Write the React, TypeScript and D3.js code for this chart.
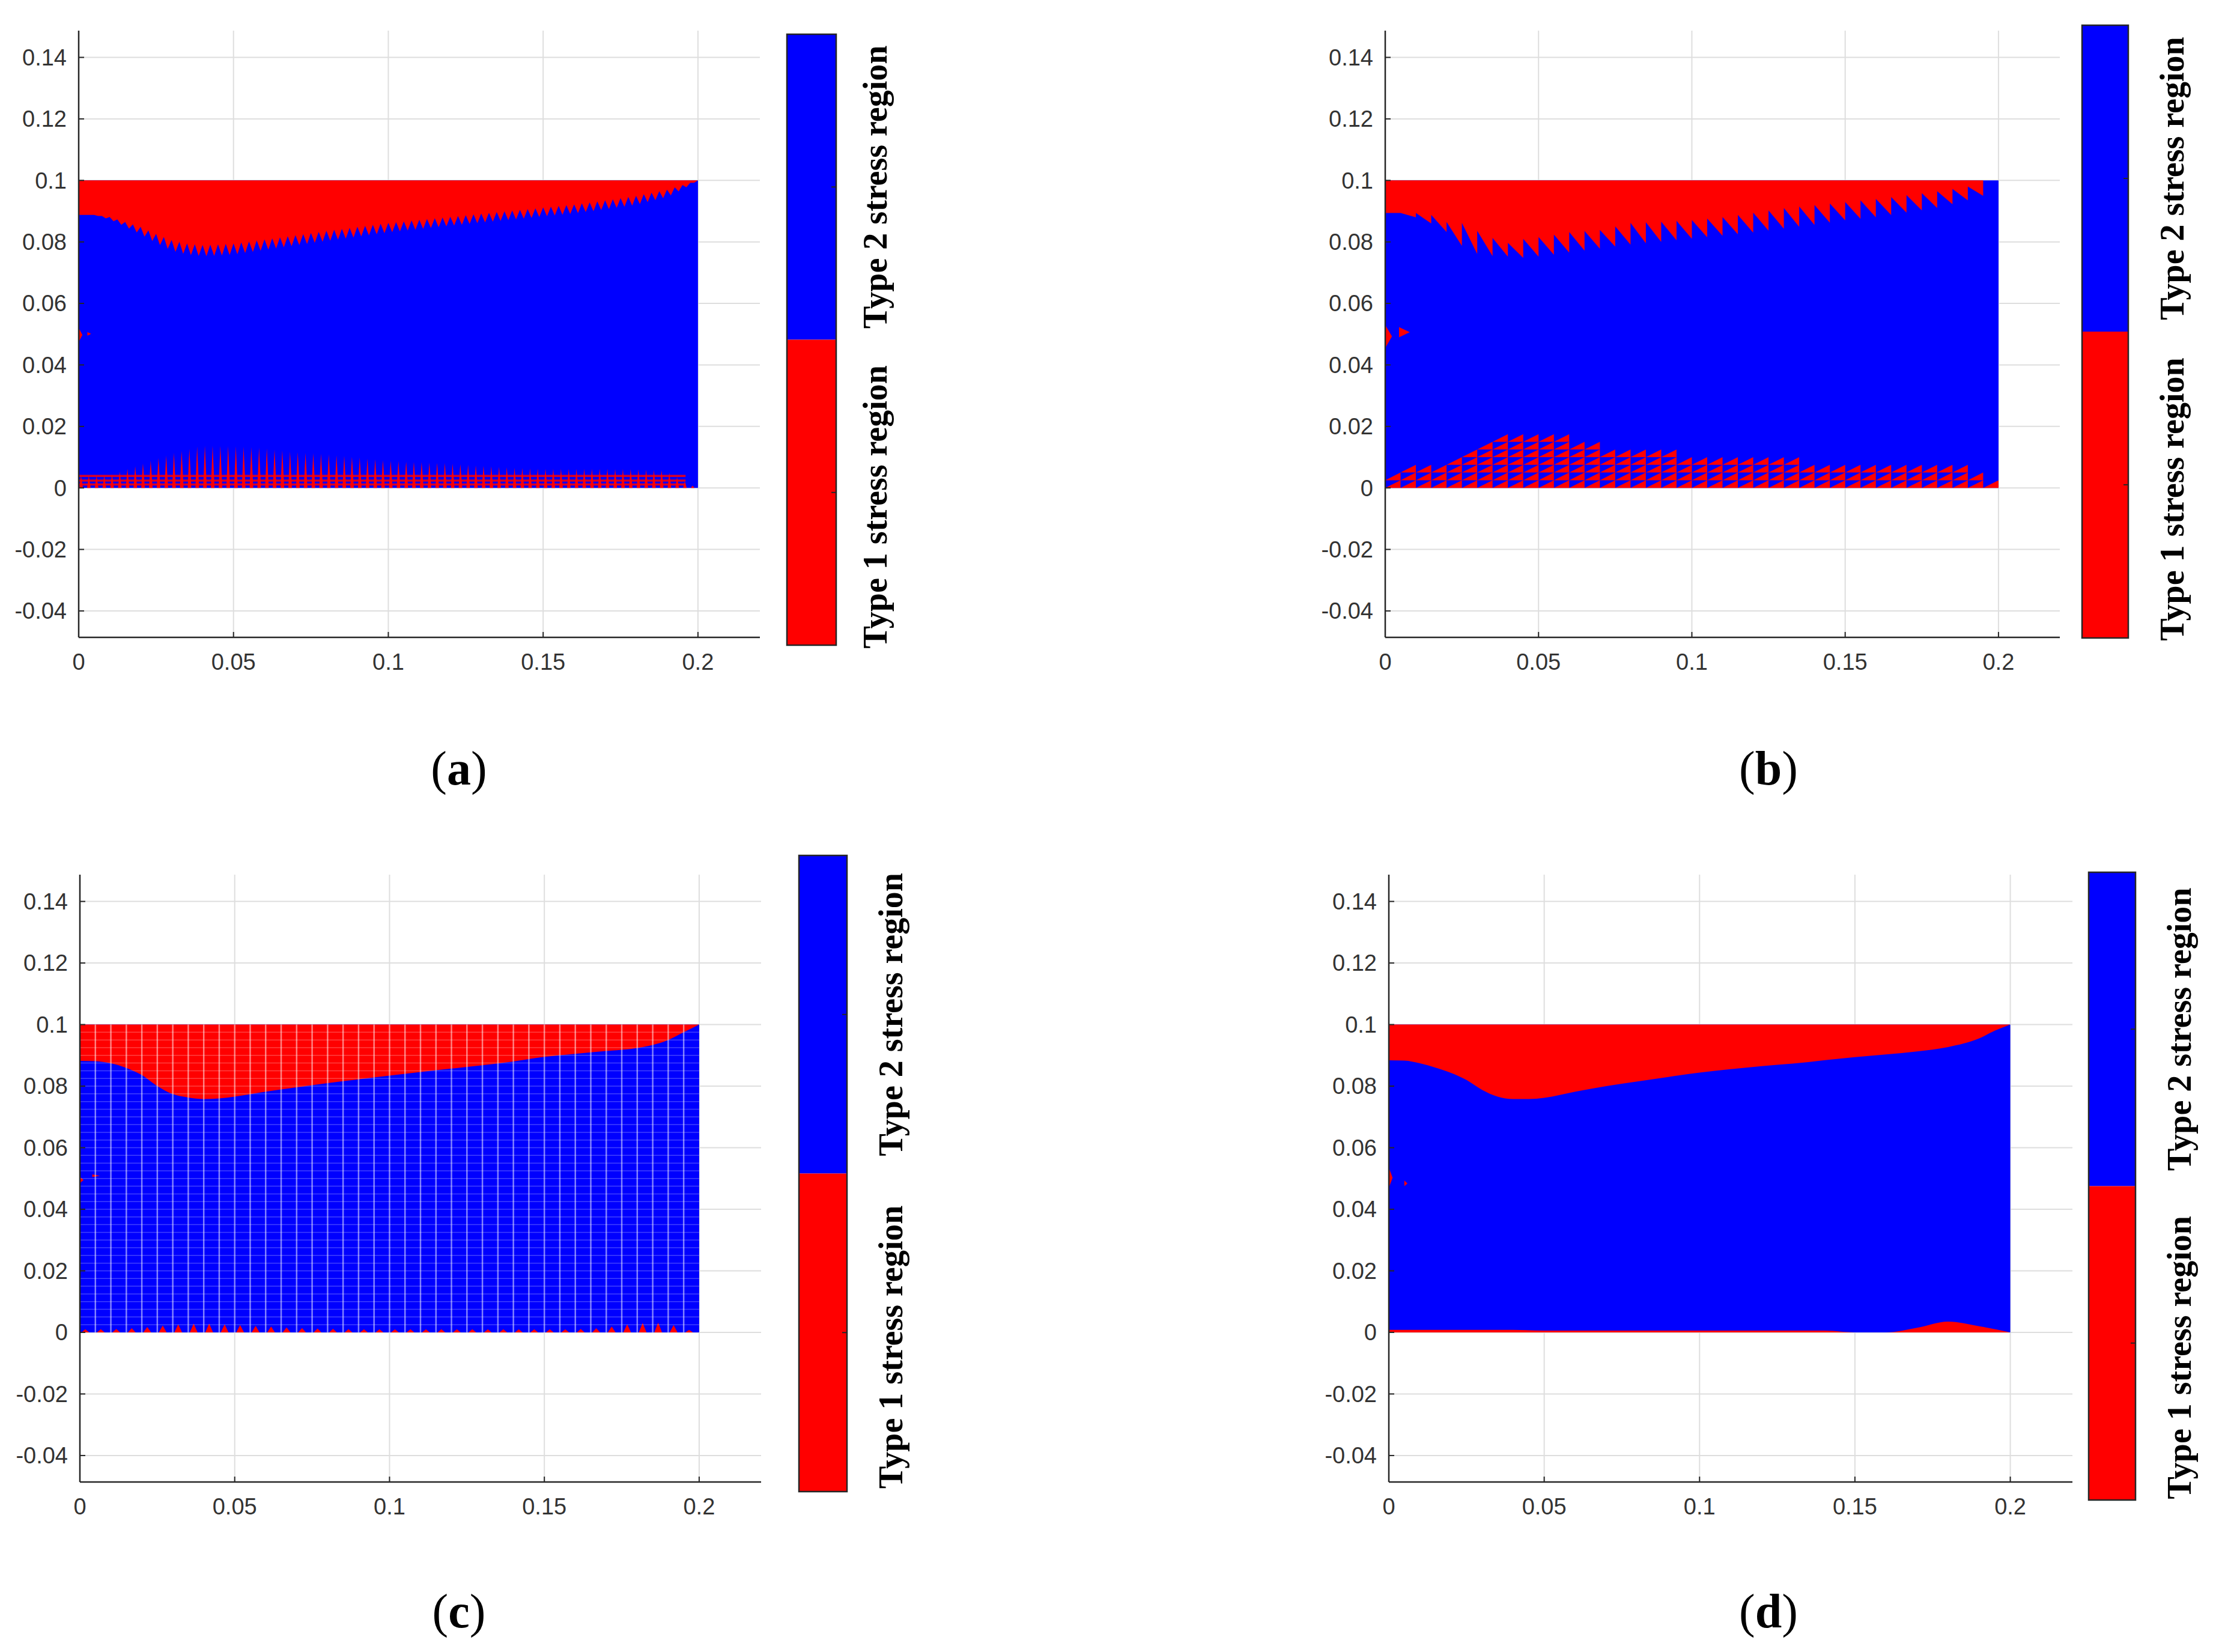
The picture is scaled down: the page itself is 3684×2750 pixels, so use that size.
import React from "react";
import * as d3 from "d3";

const RED = "#ff0000";
const BLUE = "#0000ff";
const INK = "#262626";

// axes
const xTicks = [0, 0.05, 0.1, 0.15, 0.2];
const yTicks = [-0.04, -0.02, 0, 0.02, 0.04, 0.06, 0.08, 0.1, 0.12, 0.14];
const xLimits = [0, 0.22];
const yLimits = [-0.0486, 0.1487];
const plateX = [0, 0.2];
const plateY = [0, 0.1];
const colorbarLabels = ["Type 2 stress region", "Type 1 stress region"];
const panelLetters = ["a", "b", "c", "d"];

// mesh element size
const meshDx = 0.005;
const meshDy = 0.0025;
const fineDx = 0.0025;

// upper boundary of the type 2 (blue) region
const boundaryX = [0, 0.005, 0.01, 0.015, 0.02, 0.025, 0.03, 0.035, 0.04, 0.045, 0.05, 0.06, 0.07, 0.08, 0.09, 0.1, 0.11, 0.12, 0.13, 0.14, 0.15, 0.16, 0.17, 0.18, 0.19, 0.195, 0.2];
const topA = [0.0888, 0.0888, 0.0881, 0.0865, 0.0849, 0.0826, 0.0806, 0.0795, 0.079, 0.0792, 0.0795, 0.0808, 0.0822, 0.0836, 0.0849, 0.0862, 0.0872, 0.0882, 0.0892, 0.0902, 0.0912, 0.0922, 0.0935, 0.095, 0.097, 0.0985, 0.1];
const toothA = [0, 0, 0.0008, 0.0015, 0.0025, 0.003, 0.0035, 0.0037, 0.0037, 0.0037, 0.0037, 0.0035, 0.0034, 0.0034, 0.0033, 0.0032, 0.0031, 0.003, 0.003, 0.003, 0.003, 0.003, 0.003, 0.003, 0.0025, 0.0015, 0];
const topBPeak = [0.0894, 0.0894, 0.0894, 0.0888, 0.0865, 0.0862, 0.0836, 0.0813, 0.0797, 0.081, 0.0816, 0.0832, 0.0839, 0.0862, 0.0866, 0.0871, 0.0881, 0.0895, 0.091, 0.092, 0.093, 0.094, 0.0952, 0.0965, 0.098, 0.1, 0.1];
const topBTrough = [0.0894, 0.0894, 0.088, 0.086, 0.0832, 0.0787, 0.0761, 0.0754, 0.0752, 0.0748, 0.0752, 0.0765, 0.0778, 0.0791, 0.08, 0.081, 0.082, 0.083, 0.0843, 0.0855, 0.087, 0.088, 0.0895, 0.091, 0.0935, 0.095, 0.1];
const topC = [0.0882, 0.0881, 0.0874, 0.0859, 0.0836, 0.08, 0.0774, 0.0763, 0.0758, 0.076, 0.0766, 0.0782, 0.0796, 0.081, 0.0822, 0.0834, 0.0846, 0.0857, 0.0868, 0.088, 0.0895, 0.0905, 0.0914, 0.0924, 0.095, 0.0975, 0.1];
const topD = [0.0884, 0.0883, 0.0874, 0.086, 0.0843, 0.082, 0.0788, 0.0766, 0.0758, 0.0758, 0.0762, 0.0782, 0.08, 0.0815, 0.083, 0.0844, 0.0855, 0.0865, 0.0873, 0.0884, 0.0894, 0.0903, 0.0913, 0.0927, 0.0955, 0.098, 0.1];

// type 1 spots along the lower edge
const bottomX = [0, 0.01, 0.02, 0.03, 0.04, 0.05, 0.06, 0.07, 0.08, 0.09, 0.1, 0.11, 0.12, 0.13, 0.14, 0.15, 0.16, 0.17, 0.18, 0.19, 0.2];
const bottomA = [0.004, 0.004, 0.0075, 0.011, 0.0138, 0.0136, 0.013, 0.0117, 0.011, 0.01, 0.0089, 0.0084, 0.008, 0.0072, 0.0066, 0.0062, 0.0062, 0.0062, 0.0061, 0.0057, 0];
const bandA = [0.0011, 0.0024, 0.0039];
const bottomB = [0.006, 0.0066, 0.009, 0.0138, 0.0187, 0.0184, 0.016, 0.0135, 0.013, 0.0115, 0.0105, 0.01, 0.0095, 0.009, 0.0085, 0.008, 0.008, 0.0078, 0.0075, 0.0065, 0];
const bottomC = [0.001, 0.001, 0.0015, 0.0025, 0.003, 0.0025, 0.002, 0.0015, 0.0012, 0.001, 0.001, 0.001, 0.001, 0.001, 0.001, 0.001, 0.001, 0.0015, 0.003, 0.0032, 0];
const bottomD = [0.0008, 0.0008, 0.0008, 0.0008, 0.0008, 0.0006, 0.0006, 0.0006, 0.0006, 0.0006, 0.0006, 0.0006, 0.0006, 0.0006, 0.0006, 0, 0, 0.0015, 0.0035, 0.002, 0];

// small type 1 spots at mid-height of the left edge: [x, y, w, h]
const spotsA = [[0, 0.0475, 0.0012, 0.0045], [0.0028, 0.0495, 0.0012, 0.0012]];
const spotsB = [[0, 0.0455, 0.0022, 0.0075], [0.0045, 0.049, 0.0035, 0.0033]];
const spotsC = [[0, 0.0485, 0.0012, 0.002], [0.004, 0.0505, 0.0025, 0.0008]];
const spotsD = [[0, 0.047, 0.0012, 0.0065], [0.005, 0.0475, 0.001, 0.0018]];

const layout = [
  { left: 131, right: 1265, top: 51, bottom: 1061, cb: [1310, 1392, 57, 1074], cbTextX: 1459, label: [764, 1306] },
  { left: 2306, right: 3429, top: 51, bottom: 1061, cb: [3466, 3543, 42, 1062], cbTextX: 3618, label: [2944, 1306] },
  { left: 133, right: 1267, top: 1456, bottom: 2467, cb: [1330, 1410, 1424, 2483], cbTextX: 1485, label: [764, 2709] },
  { left: 2312, right: 3450, top: 1456, bottom: 2467, cb: [3477, 3555, 1452, 2497], cbTextX: 3630, label: [2944, 2709] },
];

const fmt = (v: number) => String(+v.toFixed(2));

function Panel({ idx }: { idx: number }) {
  const L = layout[idx];
  const x = d3.scaleLinear().domain(xLimits).range([L.left, L.right]);
  const y = d3.scaleLinear().domain(yLimits).range([L.bottom, L.top]);
  const line = d3.line<number[]>().x((d) => x(d[0])).y((d) => y(d[1]));
  const poly = (pts: number[][]) => line(pts) + "Z";

  const nCols = Math.round((plateX[1] - plateX[0]) / meshDx);
  const nFine = Math.round((plateX[1] - plateX[0]) / fineDx);
  const nRows = Math.round((plateY[1] - plateY[0]) / meshDy);
  const cols = d3.range(nCols).map((i) => plateX[0] + i * meshDx);
  const fineCols = d3.range(nFine).map((i) => plateX[0] + i * fineDx);

  // type 1 region at the top
  let topPath = "";
  if (idx === 0) {
    const f = d3.scaleLinear().domain(boundaryX).range(topA);
    const dep = d3.scaleLinear().domain(boundaryX).range(toothA);
    const pts: number[][] = [[plateX[0], plateY[1]]];
    fineCols.forEach((xi) => {
      const xm = xi + fineDx / 2;
      pts.push([xi, f(xi)], [xm, f(xm) - dep(xm)]);
    });
    pts.push([plateX[1], f(plateX[1])], [plateX[1], plateY[1]]);
    topPath = poly(pts);
  } else if (idx === 1) {
    const pk = d3.scaleLinear().domain(boundaryX).range(topBPeak);
    const tr = d3.scaleLinear().domain(boundaryX).range(topBTrough);
    const pts: number[][] = [[plateX[0], plateY[1]]];
    cols.forEach((xi) => {
      pts.push([xi, pk(xi)], [xi + meshDx, tr(xi + meshDx)]);
    });
    pts.push([plateX[1], pk(plateX[1])], [plateX[1], plateY[1]]);
    topPath = poly(pts);
  } else {
    const top = idx === 2 ? topC : topD;
    topPath =
      d3
        .area<number>()
        .x((_, i) => x(boundaryX[i]))
        .y0(y(plateY[1]))
        .y1((v) => y(v))
        .curve(d3.curveMonotoneX)(top) || "";
  }

  // type 1 spots along the bottom
  const bottomShapes: string[] = [];
  if (idx === 0) {
    const h = d3.scaleLinear().domain(bottomX).range(bottomA);
    fineCols.forEach((xi) => {
      const hv = h(xi + fineDx / 2);
      if (hv > 0) bottomShapes.push(poly([[xi + 0.08 * fineDx, 0], [xi + 0.55 * fineDx, 0], [xi + 0.3 * fineDx, hv]]));
    });
  } else if (idx === 1) {
    const h = d3.scaleLinear().domain(bottomX).range(bottomB);
    cols.forEach((xi) => {
      const n = Math.round(h(xi + meshDx / 2) / meshDy);
      for (let j = 0; j < n; j++) {
        const y0 = j * meshDy;
        bottomShapes.push(poly([[xi, y0], [xi + meshDx, y0], [xi + meshDx, y0 + meshDy]]));
      }
    });
  } else if (idx === 2) {
    const h = d3.scaleLinear().domain(bottomX).range(bottomC);
    cols.forEach((xi) => {
      const hv = h(xi + meshDx / 2);
      if (hv > 0) bottomShapes.push(poly([[xi + 0.1 * meshDx, 0], [xi + 0.6 * meshDx, 0], [xi + 0.35 * meshDx, hv]]));
    });
  } else {
    bottomShapes.push(
      d3
        .area<number>()
        .x((_, i) => x(bottomX[i]))
        .y0(y(0))
        .y1((v) => y(v))
        .curve(d3.curveMonotoneX)(bottomD) || ""
    );
  }

  const spots = [spotsA, spotsB, spotsC, spotsD][idx];

  const [cx0, cx1, cy0, cy1] = L.cb;
  const cbH = cy1 - cy0;
  const tick = 9;

  return (
    <g>
      {/* grid */}
      {xTicks.map((t) => (
        <line key={"gx" + t} x1={x(t)} x2={x(t)} y1={y(yLimits[0])} y2={y(yLimits[1])} stroke="#dedede" strokeWidth={2} />
      ))}
      {yTicks.map((t) => (
        <line key={"gy" + t} x1={x(xLimits[0])} x2={x(xLimits[1])} y1={y(t)} y2={y(t)} stroke="#dedede" strokeWidth={2} />
      ))}

      {/* plate */}
      <rect x={x(plateX[0])} y={y(plateY[1])} width={x(plateX[1]) - x(plateX[0])} height={y(plateY[0]) - y(plateY[1])} fill={BLUE} />
      <path d={topPath} fill={RED} />
      {idx === 0 &&
        bandA.map((b) => (
          <line key={"b" + b} x1={x(0)} x2={x(0.196)} y1={y(b)} y2={y(b)} stroke={RED} strokeWidth={3.5} strokeOpacity={0.85} />
        ))}
      {bottomShapes.map((d, i) => (
        <path key={"bs" + i} d={d} fill={RED} />
      ))}
      {spots.map((s, i) => (
        <path key={"sp" + i} d={poly([[s[0], s[1]], [s[0] + s[2], s[1] + s[3] / 2], [s[0], s[1] + s[3]]])} fill={RED} />
      ))}

      {/* mesh lines of panel (c) */}
      {idx === 2 && (
        <g>
          {d3.range(1, nCols).map((i) => (
            <line key={"mv" + i} x1={x(i * meshDx)} x2={x(i * meshDx)} y1={y(plateY[0])} y2={y(plateY[1])} stroke="#ffffff" strokeOpacity={0.5} strokeWidth={2.5} />
          ))}
          {d3.range(1, nRows).map((j) => (
            <line key={"mh" + j} x1={x(plateX[0])} x2={x(plateX[1])} y1={y(j * meshDy)} y2={y(j * meshDy)} stroke="#ffffff" strokeOpacity={0.25} strokeWidth={1.5} />
          ))}
        </g>
      )}

      {/* axes */}
      <line x1={L.left} x2={L.left} y1={L.top} y2={L.bottom} stroke={INK} strokeWidth={2.5} />
      <line x1={L.left} x2={L.right} y1={L.bottom} y2={L.bottom} stroke={INK} strokeWidth={2.5} />
      {xTicks.map((t) => (
        <g key={"xt" + t}>
          <line x1={x(t)} x2={x(t)} y1={L.bottom} y2={L.bottom - tick} stroke={INK} strokeWidth={2} />
          <text x={x(t)} y={L.bottom + 54} textAnchor="middle" fontFamily="'Liberation Sans', Arial, sans-serif" fontSize={38} fill="#333">
            {fmt(t)}
          </text>
        </g>
      ))}
      {yTicks.map((t) => (
        <g key={"yt" + t}>
          <line x1={L.left} x2={L.left + tick} y1={y(t)} y2={y(t)} stroke={INK} strokeWidth={2} />
          <text x={L.left - 20} y={y(t)} dy="0.35em" textAnchor="end" fontFamily="'Liberation Sans', Arial, sans-serif" fontSize={38} fill="#333">
            {fmt(t)}
          </text>
        </g>
      ))}

      {/* colorbar */}
      <rect x={cx0} y={cy0} width={cx1 - cx0} height={cbH / 2} fill={BLUE} />
      <rect x={cx0} y={cy0 + cbH / 2} width={cx1 - cx0} height={cbH / 2} fill={RED} />
      <rect x={cx0} y={cy0} width={cx1 - cx0} height={cbH} fill="none" stroke={INK} strokeWidth={2.5} />
      {[0.25, 0.75].map((q) => (
        <line key={"cbt" + q} x1={cx1 - 8} x2={cx1} y1={cy0 + q * cbH} y2={cy0 + q * cbH} stroke={INK} strokeWidth={2} />
      ))}
      {colorbarLabels.map((s, i) => {
        const cyl = cy0 + (i === 0 ? 0.25 : 0.75) * cbH + (i === 0 ? 0 : 24);
        return (
          <text
            key={s}
            transform={`translate(${L.cbTextX},${cyl}) rotate(-90)`}
            textAnchor="middle"
            dy="0.3em"
            fontFamily="'Liberation Serif', 'Times New Roman', serif"
            fontWeight="bold"
            fontSize={56}
            fill="#000"
          >
            {s}
          </text>
        );
      })}

      {/* panel letter */}
      <text x={L.label[0]} y={L.label[1]} textAnchor="middle" fontFamily="'Liberation Serif', 'Times New Roman', serif" fontSize={80} fill="#000">
        (<tspan fontWeight="bold">{panelLetters[idx]}</tspan>)
      </text>
    </g>
  );
}

export default function App() {
  return (
    <div style={{ position: "absolute", left: 0, top: 0 }}>
      <svg width={3684} height={2750} style={{ display: "block", background: "#fff" }}>
        <rect width={3684} height={2750} fill="#fff" />
        {layout.map((_, i) => (
          <Panel key={i} idx={i} />
        ))}
      </svg>
    </div>
  );
}
